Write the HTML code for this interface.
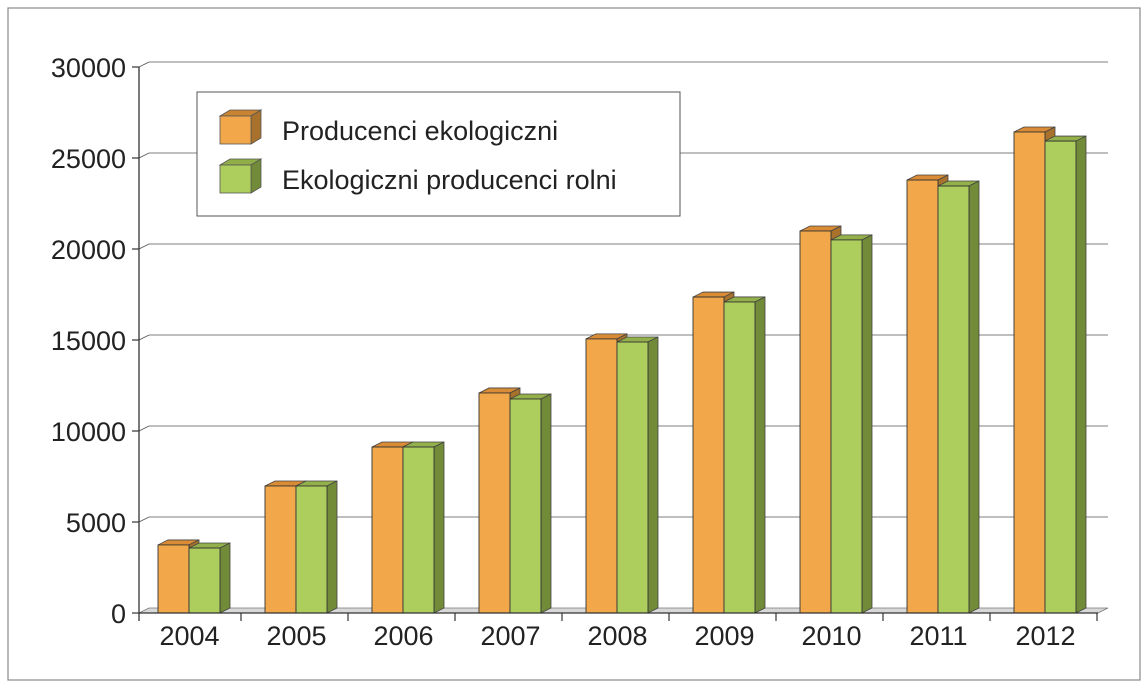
<!DOCTYPE html>
<html><head><meta charset="utf-8"><style>
body{margin:0;background:#fff;}
svg{display:block;font-family:"Liberation Sans","DejaVu Sans",sans-serif;}
</style></head><body>
<svg width="1148" height="688">
<rect x="8" y="8" width="1132" height="672" fill="#fff" stroke="#888" stroke-width="1.2"/>
<g id="grid"></g>
<g id="bars"></g>
<g id="axes"></g>
<g>
<rect x="197" y="92" width="483" height="124" fill="#fff" stroke="#555" stroke-width="1"/>
<g>
<polygon points="220,116 251,116 261,110 230,110" fill="#c98431" stroke="#555" stroke-width="0.8"/>
<polygon points="251,116 261,110 261,138 251,144" fill="#a8712c" stroke="#555" stroke-width="0.8"/>
<rect x="220" y="116" width="31" height="28" fill="#f2a84a" stroke="#555" stroke-width="0.8"/>
<text x="282" y="140" font-size="27" fill="#222">Producenci ekologiczni</text>
</g>
<g>
<polygon points="220,165 251,165 261,159 230,159" fill="#8fae48" stroke="#555" stroke-width="0.8"/>
<polygon points="251,165 261,159 261,187 251,193" fill="#728b38" stroke="#555" stroke-width="0.8"/>
<rect x="220" y="165" width="31" height="28" fill="#adcd5c" stroke="#555" stroke-width="0.8"/>
<text x="282" y="189" font-size="27" fill="#222">Ekologiczni producenci rolni</text>
</g>
</g>
</svg>
<script>
const categories=["2004","2005","2006","2007","2008","2009","2010","2011","2012"];
const producers=[3740,6980,9120,12090,15060,17360,20990,23790,26430];
const agricultural=[3570,6980,9120,11760,14890,17090,20500,23460,25930];
const yTicks=[0,5000,10000,15000,20000,25000,30000];
const NS="http://www.w3.org/2000/svg";
const y0=613,yTop=67,yMax=30000,xStart=134,step=107,bw=31,dx=10,dy=5;
function yScale(v){return y0-(v/yMax)*(y0-yTop);}
function xCat(i){return xStart+step*(i+0.5);}
function mk(tag,attrs,parent){const e=document.createElementNS(NS,tag);for(const k in attrs)e.setAttribute(k,attrs[k]);parent.appendChild(e);return e;}
const grid=document.getElementById('grid'),bars=document.getElementById('bars'),axes=document.getElementById('axes');
// floor
const floor=mk('polygon',{points:`139,${y0} 1098,${y0} 1108,${y0-dy} 149,${y0-dy}`,fill:'#d8d8d8',stroke:'#777','stroke-width':0.8},grid);


yTicks.forEach(t=>{
  const y=yScale(t);
  if(t>0){
    const g=mk('line',{x1:149,y1:y-dy,x2:1108,y2:y-dy,stroke:'#555','stroke-width':0.8},grid);
    
    
    mk('line',{x1:139,y1:y,x2:149,y2:y-dy,stroke:'#555','stroke-width':0.8},grid);
  }
  const tk=mk('line',{x1:132,y1:y,x2:139,y2:y,stroke:'#333','stroke-width':1.2},axes);
  
  
  const lb=mk('text',{x:126,y:y+10,'text-anchor':'end','font-size':27,fill:'#222'},axes);
  lb.textContent=t;
  
  
});
function bar(x,v,cols,name){
  const yt=yScale(v),h=y0-yt;
  const g=mk('g',{},bars);
  
  
  mk('polygon',{points:`${x},${yt} ${x+bw},${yt} ${x+bw+dx},${yt-dy} ${x+dx},${yt-dy}`,fill:cols[1],stroke:'#444','stroke-width':0.8},g);
  mk('polygon',{points:`${x+bw},${yt} ${x+bw+dx},${yt-dy} ${x+bw+dx},${y0-dy} ${x+bw},${y0}`,fill:cols[2],stroke:'#444','stroke-width':0.8},g);
  mk('rect',{x:x,y:yt,width:bw,height:h,fill:cols[0],stroke:'#333','stroke-width':0.9},g);
}
categories.forEach((c,i)=>{
  const cx=xCat(i)+1.5;
  bar(cx-bw,producers[i],['#f2a84a','#d98c35','#a8712c'],'bar-producers-'+c);
  bar(cx,agricultural[i],['#adcd5c','#94b04a','#728b38'],'bar-agricultural-'+c);
  const lb=mk('text',{x:xCat(i)+2,y:645,'text-anchor':'middle','font-size':27,fill:'#222'},axes);
  lb.textContent=c;
  
  
  const tk=mk('line',{x1:xStart+step*(i+1),y1:y0,x2:xStart+step*(i+1),y2:y0+8,stroke:'#333','stroke-width':1.2},axes);
  
  
});
const ya=mk('line',{x1:139,y1:yTop,x2:139,y2:y0+8,stroke:'#333','stroke-width':1.3},axes);


const xa=mk('line',{x1:139,y1:y0,x2:1098,y2:y0,stroke:'#333','stroke-width':1.3},axes);


</script>
</body></html>
